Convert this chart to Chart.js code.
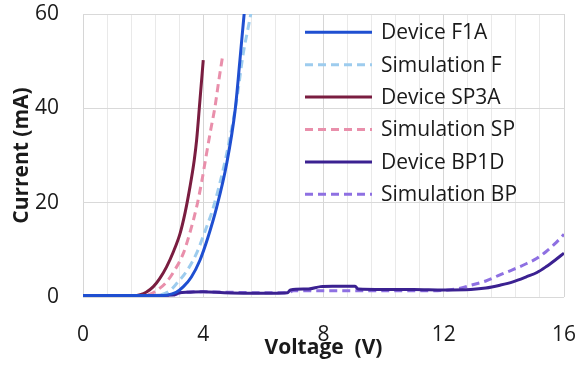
<!DOCTYPE html>
<html>
<head>
<meta charset="utf-8">
<script src="https://cdn.jsdelivr.net/npm/chart.js@4"></script>
<style>
  html, body { margin: 0; padding: 0; background: #fff; }
</style>
</head>
<body>
<canvas id="ivChart" width="582" height="365"></canvas>
<script>
// tick labels
var xTickLabels = [0, 4, 8, 12, 16];
var yTickLabels = [0, 20, 40, 60];

// Device F1A
var f1aVolt = [0, 2.5, 2.8, 3.1, 3.34, 3.6, 3.89, 4.15, 4.45, 4.78, 5.06, 5.22, 5.36, 5.5];
var f1aCurr = [0.3, 0.3, 0.4, 1.0, 2.2, 4.2, 7.8, 12.5, 19.1, 28.3, 39.6, 50.2, 60, 68];

// Simulation F
var simFVolt = [0, 2.3, 2.6, 2.9, 3.12, 3.45, 3.78, 4.05, 4.34, 4.78, 5.11, 5.33, 5.58, 5.7];
var simFCurr = [0.3, 0.3, 0.5, 1.4, 2.9, 5.5, 9.3, 13.8, 19.1, 30.4, 41.7, 51.6, 60, 65];

// Device SP3A
var sp3aVolt = [0, 1.7, 1.9, 2.1, 2.34, 2.55, 2.78, 3.0, 3.23, 3.4, 3.56, 3.7, 3.78, 3.89, 4.0];
var sp3aCurr = [0.3, 0.3, 0.5, 1.0, 2.2, 3.9, 6.4, 9.5, 13.5, 18, 23.4, 29, 33.3, 41.7, 50.2];

// Simulation SP
var simSPVolt = [0, 2.0, 2.23, 2.5, 2.78, 3.05, 3.34, 3.55, 3.78, 3.95, 4.11, 4.25, 4.39, 4.52, 4.65];
var simSPCurr = [0.3, 0.3, 0.6, 1.6, 3.2, 5.7, 9.3, 13.5, 19.1, 24.5, 30.4, 35.5, 40.3, 46, 51.3];

// Device BP1D
var bp1dVolt = [0, 1, 2, 3, 3.2, 3.5, 4, 4.7, 5.5, 6.3, 6.8, 6.9, 7.5, 7.9, 8.3, 8.7, 9.05, 9.15, 10, 11, 12, 12.9, 13.4, 13.87, 14.3, 14.76, 15.1, 15.4, 15.7, 16];
var bp1dCurr = [0.3, 0.3, 0.3, 0.4, 0.9, 1.0, 1.1, 0.9, 0.8, 0.8, 0.9, 1.5, 1.7, 2.2, 2.3, 2.3, 2.3, 1.7, 1.6, 1.6, 1.5, 1.6, 1.9, 2.5, 3.2, 4.3, 5.2, 6.4, 7.8, 9.3];

// Simulation BP
var simBPVolt = [0, 3, 3.3, 4, 5, 6, 6.8, 7, 8, 9, 10, 11, 12, 12.5, 12.9, 13.4, 13.87, 14.3, 14.76, 15.1, 15.4, 15.7, 16];
var simBPCurr = [0.3, 0.4, 1.0, 1.1, 1.0, 0.9, 0.9, 1.3, 1.3, 1.3, 1.3, 1.3, 1.4, 1.8, 2.5, 3.4, 4.7, 5.8, 7.1, 8.2, 9.6, 11.3, 13.3];

function toPoints(xs, ys) {
    return xs.map(function (x, i) { return { x: x, y: ys[i] }; });
}

function series(label, xs, ys, color, dashed) {
    return {
        label: label,
        data: toPoints(xs, ys),
        borderColor: color,
        backgroundColor: color,
        borderWidth: 3,
        borderDash: dashed ? [8, 5] : [],
        pointRadius: 0,
        showLine: true,
        fill: false,
        cubicInterpolationMode: 'monotone'
    };
}

var textColor = '#1a1a1a';
var baseFont = '"Open Sans", "Liberation Sans", sans-serif';

// legend drawn inside the plot area, as in the original
var insideLegend = {
    id: 'insideLegend',
    afterDatasetsDraw: function (chart) {
        var ctx = chart.ctx;
        chart.data.datasets.forEach(function (ds, i) {
            var y = 32.3 + i * 32.4;
            ctx.save();
            ctx.strokeStyle = ds.borderColor;
            ctx.lineWidth = 3;
            ctx.setLineDash(ds.borderDash);
            ctx.beginPath();
            ctx.moveTo(305, y);
            ctx.lineTo(372, y);
            ctx.stroke();
            ctx.setLineDash([]);
            ctx.fillStyle = textColor;
            ctx.font = '21px ' + baseFont;
            ctx.textBaseline = 'middle';
            ctx.textAlign = 'left';
            ctx.fillText(ds.label, 381, y + 1);
            ctx.restore();
        });
    }
};

var gridSteps = [];
for (var i = 0; i <= 20; i++) gridSteps.push(i * 4 / 5);

var ctx = document.getElementById('ivChart').getContext('2d');
var ivChart = new Chart(ctx, {
    type: 'scatter',
    data: {
        datasets: [
            series('Device F1A', f1aVolt, f1aCurr, '#1f4fd1', false),
            series('Simulation F', simFVolt, simFCurr, '#9dccee', true),
            series('Device SP3A', sp3aVolt, sp3aCurr, '#7a1d40', false),
            series('Simulation SP', simSPVolt, simSPCurr, '#e98fab', true),
            series('Device BP1D', bp1dVolt, bp1dCurr, '#3b2191', false),
            series('Simulation BP', simBPVolt, simBPCurr, '#8e70e2', true)
        ]
    },
    options: {
        responsive: false,
        animation: false,
        layout: {
            padding: { top: 14, right: 18, left: 0, bottom: 0 }
        },
        plugins: {
            legend: { display: false },
            tooltip: { enabled: false }
        },
        scales: {
            x: {
                type: 'linear',
                min: 0,
                max: 16,
                afterBuildTicks: function (scale) {
                    scale.ticks = gridSteps.map(function (v) { return { value: v }; });
                },
                afterFit: function (scale) {
                    scale.height = 68;
                    scale.paddingLeft = 0;
                    scale.paddingRight = 0;
                },
                ticks: {
                    autoSkip: false,
                    maxRotation: 0,
                    padding: 25,
                    color: textColor,
                    font: { family: baseFont, size: 21 },
                    callback: function (v) { return xTickLabels.indexOf(v) >= 0 ? String(v) : ''; }
                },
                grid: {
                    drawTicks: false,
                    lineWidth: 1,
                    color: function (c) {
                        return (c.tick && xTickLabels.indexOf(c.tick.value) >= 0) ? '#d6d6d6' : '#e9e9e9';
                    }
                },
                border: { display: false },
                title: {
                    display: true,
                    text: 'Voltage  (V)',
                    color: textColor,
                    font: { family: baseFont, size: 21, weight: 'bold' },
                    padding: { top: 0, bottom: 4 }
                }
            },
            y: {
                min: 0,
                max: 60,
                afterBuildTicks: function (scale) {
                    scale.ticks = yTickLabels.map(function (v) { return { value: v }; });
                },
                afterFit: function (scale) {
                    scale.width = 83;
                    scale.paddingTop = 0;
                    scale.paddingBottom = 0;
                },
                ticks: {
                    padding: 24,
                    color: textColor,
                    font: { family: baseFont, size: 21 }
                },
                grid: {
                    drawTicks: false,
                    color: '#d9d9d9',
                    lineWidth: 1
                },
                border: { display: false },
                title: {
                    display: true,
                    text: 'Current (mA)',
                    color: textColor,
                    font: { family: baseFont, size: 21, weight: 'bold' },
                    padding: { top: 9, bottom: 0 }
                }
            }
        }
    },
    plugins: [insideLegend]
});
</script>
</body>
</html>
